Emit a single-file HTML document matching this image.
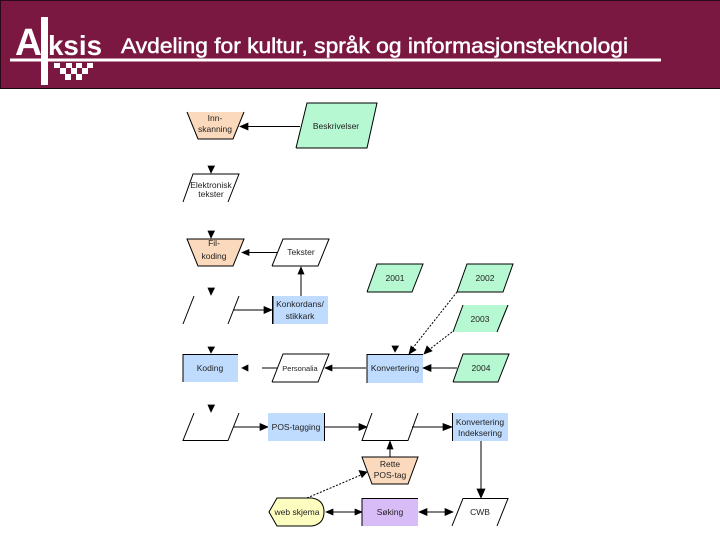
<!DOCTYPE html>
<html><head><meta charset="utf-8"><style>
html,body{margin:0;padding:0;background:#fff}
svg{display:block}
.t{font-family:"Liberation Sans",sans-serif;font-size:8.500px;fill:#222;text-anchor:middle;filter:url(#b)}
.l{stroke:#000;stroke-width:1;fill:none}
.d{stroke:#000;stroke-width:1;fill:none;stroke-dasharray:2 1.500}
.h{fill:#000;stroke:#000;stroke-width:.7}
</style></head><body>
<svg width="720" height="540" viewBox="0 0 720 540" xmlns="http://www.w3.org/2000/svg">
<defs><filter id="b" x="-10%" y="-20%" width="120%" height="140%"><feGaussianBlur stdDeviation="0.3"/></filter></defs>
<rect width="720" height="540" fill="#fff"/>
<rect x="0" y="0" width="720" height="89" fill="#7b1842"/>
<rect x="0" y="0" width="720" height="1" fill="#2a0a18"/>
<rect x="0" y="88" width="720" height="1" fill="#1a0810"/>
<rect x="0" y="0" width="1" height="89" fill="#2a0a18"/>
<rect x="10" y="58.500" width="651" height="3" fill="#fff"/>
<rect x="41" y="17" width="7" height="68" fill="#fff"/>
<text x="15" y="55" font-family="'Liberation Sans',sans-serif" font-weight="bold" font-size="38" fill="#fff" textLength="27" lengthAdjust="spacingAndGlyphs">A</text>
<text x="48" y="55" font-family="'Liberation Sans',sans-serif" font-weight="bold" font-size="28" fill="#fff" textLength="54" lengthAdjust="spacingAndGlyphs">ksis</text>
<g fill="#fff">
<rect x="54" y="63" width="6" height="5"/><rect x="66" y="63" width="6" height="5"/><rect x="76" y="63" width="6" height="5"/><rect x="87" y="63" width="6" height="5"/>
<rect x="60" y="68" width="6" height="6"/><rect x="71" y="68" width="6" height="6"/><rect x="82" y="68" width="6" height="6"/>
<rect x="65" y="74" width="6" height="6"/><rect x="76" y="74" width="6" height="6"/>
</g>
<text x="121" y="53" font-family="'Liberation Sans',sans-serif" font-size="21" fill="#fff" stroke="#fff" stroke-width=".5" textLength="507" lengthAdjust="spacingAndGlyphs">Avdeling for kultur, språk og informasjonsteknologi</text>

<!-- Row 1 -->
<polygon points="187,112 244,112 233,139 198,139" fill="#fbd9bc"/>
<path class="l" d="M187,112L198,139H233L244,112"/>
<text class="t" x="215" y="121">Inn-</text><text class="t" x="215" y="132">skanning</text>
<polygon points="307,103 377,103 367,148 296,148" fill="#b6f8d2"/>
<path class="l" d="M296,148L307,103H377L367,148H296"/>
<text class="t" x="336" y="129">Beskrivelser</text>
<path class="l" d="M300,126.500H246"/><polygon class="h" points="240,126.500 248,123 248,130"/>

<path class="h" d="M208,166H214.500L211,173Z"/>
<polygon points="193,174 239,174 228,202 183,202" fill="#fff"/>
<path class="l" d="M183,202L193,174H239L228,202"/>
<text class="t" x="211" y="188">Elektronisk</text><text class="t" x="211" y="197">tekster</text>

<path class="h" d="M208,231H214.500L211,238Z"/>
<polygon points="187,239 244,239 233,266 198,266" fill="#fbd9bc"/>
<path class="l" d="M187,239H244L233,266H198Z"/>
<text class="t" x="214" y="246">Fil-</text><text class="t" x="214" y="259">koding</text>
<polygon points="283,239 329,239 318,266 272,266" fill="#fff"/>
<path class="l" d="M272,266L283,239H329L318,266H272"/>
<text class="t" x="301" y="255">Tekster</text>
<path class="l" d="M277,252.500H246"/><polygon class="h" points="242,252.500 249,249.500 249,255.500"/>

<!-- Row 2 -->
<polygon points="377,264 423,264 412,292 367,292" fill="#b6f8d2"/>
<path class="l" d="M367,292L377,264H423L412,292H367"/>
<text class="t" x="395" y="281">2001</text>
<polygon points="467,264 513,264 503,292 457,292" fill="#b6f8d2"/>
<path class="l" d="M457,292L467,264H513L503,292H457"/>
<text class="t" x="485" y="281">2002</text>
<polygon points="463,305 508,305 497,332 453,332" fill="#b6f8d2"/>
<path class="l" d="M453,332L463,305M508,305L497,332"/>
<text class="t" x="480" y="322">2003</text>
<path class="d" d="M457,292L412,349"/><polygon class="h" points="409,354 411,346 416,350"/>
<path class="d" d="M452,332L430,349"/><polygon class="h" points="424,354 427,346 432,351"/>

<path class="h" d="M208,288H214.500L211,295Z"/>
<path class="l" d="M194,296L183,324M239,296L228,324"/>
<path class="l" d="M233,310H266"/><polygon class="h" points="272,310 264,306.500 264,313.500"/>
<rect x="272" y="296" width="56" height="28" fill="#bfdcff"/>
<rect x="272" y="296" width="1.500" height="28" fill="#000"/>
<text class="t" x="300" y="307">Konkordans/</text><text class="t" x="300" y="319">stikkark</text>
<path class="l" d="M301,296V272"/><polygon class="h" points="301,267 298,274 304,274"/>

<!-- Row 3 -->
<path class="h" d="M208,347H214.500L211,353Z"/>
<rect x="183" y="354" width="55" height="28" fill="#bfdcff"/>
<path class="l" d="M183,382V354.500H238"/>
<text class="t" x="210" y="371">Koding</text>
<polygon class="h" points="242,368 248,365 248,371"/>
<path class="l" d="M262,368H277"/>
<polygon points="283,354 329,354 318,382 272,382" fill="#fff"/>
<path class="l" d="M272,382L283,354H329L318,382H272"/>
<text class="t" x="300" y="371" style="font-size:7.500px">Personalia</text>
<path class="l" d="M366,368H331"/><polygon class="h" points="325,368 332,365 332,371"/>
<path class="h" d="M392,346H398.500L395,352Z"/>
<rect x="367" y="354" width="56" height="29" fill="#bfdcff"/>
<path class="l" d="M367,383V354.500H423"/>
<text class="t" x="395" y="371">Konvertering</text>
<polygon points="463,354 509,354 498,382 453,382" fill="#b6f8d2"/>
<path class="l" d="M453,382L463,354H509L498,382H453"/>
<text class="t" x="481" y="371">2004</text>
<path class="l" d="M457,368H430"/><polygon class="h" points="423,368 431,364.500 431,371.500"/>

<!-- Row 4 -->
<path class="h" d="M208,405H214.500L211,412Z"/>
<path class="l" d="M194,413L183,440.500H228L239,413"/>
<path class="l" d="M233,427H262"/><polygon class="h" points="268,427 260,423.500 260,430.500"/>
<rect x="268" y="413" width="57" height="28" fill="#bfdcff"/>
<path class="l" d="M324.500,413V441"/>
<text class="t" x="296" y="430">POS-tagging</text>
<path class="l" d="M325,427H361"/><polygon class="h" points="367,427 359,423.500 359,430.500"/>
<path class="l" d="M372,413L362,440.500H408L418,413"/>
<path class="l" d="M412,427H446"/><polygon class="h" points="452,427 443,423.500 443,430.500"/>
<rect x="452" y="413" width="56" height="28" fill="#bfdcff"/>
<path class="l" d="M452.500,413V441"/>
<text class="t" x="480" y="425">Konvertering</text><text class="t" x="480" y="436">Indeksering</text>
<path class="l" d="M481,441V491"/><polygon class="h" points="481,498 477,489 485,489"/>

<!-- Row 5 -->
<polygon points="362,457 418,457 408,484 372,484" fill="#fbd9bc"/>
<path class="l" d="M362,457H418L408,484H372Z"/>
<text class="t" x="390" y="467">Rette</text><text class="t" x="390" y="478">POS-tag</text>
<path class="l" d="M390,457V447"/><polygon class="h" points="390,441 387,449 393,449"/>
<path class="d" d="M307,498L361,475"/><polygon class="h" points="367,472 359,470.500 362,477.500"/>

<path d="M277,498H312Q324,500 324,512Q324,524 312,526H277L269,512Z" fill="#fdfdc0" stroke="#000"/>
<text class="t" x="297" y="515">web skjema</text>
<path class="l" d="M332,512H356"/><polygon class="h" points="326,512 333,509 333,515"/><polygon class="h" points="362,512 355,509 355,515"/>
<rect x="362" y="498" width="56" height="28" fill="#d8bcf8"/>
<path class="l" d="M362,526V498.500H418"/>
<text class="t" x="390" y="515">Søking</text>
<path class="l" d="M427,512H446"/><polygon class="h" points="419,512 427,508.500 427,515.500"/><polygon class="h" points="453,512 445,508.500 445,515.500"/>
<polygon points="463,498 508,498 497,526 452,526" fill="#fff"/>
<path class="l" d="M452,526L463,498.500H508L497,526"/>
<text class="t" x="480" y="515">CWB</text>
</svg>
</body></html>
